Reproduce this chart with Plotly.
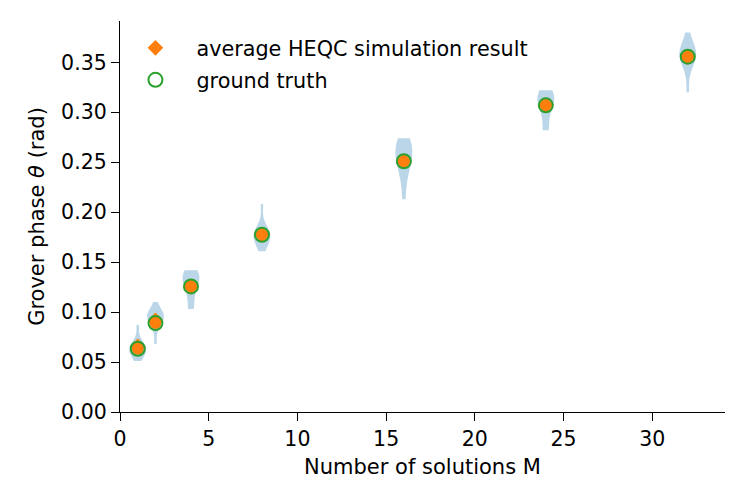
import numpy as np
import plotly.graph_objects as go

# Number of solutions M
M_values = [1, 2, 4, 8, 16, 24, 32]

# Per-run simulated phases (read from violin extents/shapes)
samples_M1 = [0.051, 0.055, 0.058, 0.060, 0.062, 0.063, 0.064, 0.066, 0.068, 0.072, 0.087]
samples_M2 = [0.068, 0.084, 0.089, 0.092, 0.094, 0.096, 0.097, 0.098, 0.099, 0.100, 0.110]
samples_M4 = [0.103, 0.106, 0.118, 0.124, 0.128, 0.131, 0.134, 0.136, 0.138, 0.140, 0.142]
samples_M8 = [0.161, 0.166, 0.170, 0.173, 0.175, 0.177, 0.178, 0.180, 0.182, 0.186, 0.208]
samples_M16 = [0.213, 0.232, 0.242, 0.248, 0.252, 0.256, 0.260, 0.264, 0.268, 0.271, 0.274]
samples_M24 = [0.282, 0.285, 0.300, 0.305, 0.309, 0.312, 0.315, 0.318, 0.320, 0.322]
samples_M32 = [0.320, 0.342, 0.350, 0.353, 0.356, 0.358, 0.360, 0.362, 0.364, 0.368, 0.380]
all_samples = [samples_M1, samples_M2, samples_M4, samples_M8, samples_M16, samples_M24, samples_M32]

# Average simulation result and ground truth
avg_theta = [0.0657, 0.0917, 0.1257, 0.1776, 0.2510, 0.3072, 0.3555]
truth_theta = [0.0633, 0.0890, 0.1257, 0.1774, 0.2510, 0.3070, 0.3557]

x_ticks = [0, 5, 10, 15, 20, 25, 30]
y_ticks = [0.00, 0.05, 0.10, 0.15, 0.20, 0.25, 0.30, 0.35]

FONT = "DejaVu Sans"
fig = go.Figure()

for m, s in zip(M_values, all_samples):
    arr = np.array(s)
    bw = arr.std(ddof=1) * len(arr) ** (-0.2)
    fig.add_trace(go.Violin(
        x=[m] * len(s), y=s, width=0.95, spanmode="hard", bandwidth=bw,
        points=False, fillcolor="rgba(31,119,180,0.3)", line=dict(width=0),
        box_visible=False, meanline_visible=False, showlegend=False,
        hoverinfo="skip", scalemode="width",
    ))

fig.add_trace(go.Scatter(
    x=M_values, y=avg_theta, mode="markers", name="average HEQC simulation result",
    legendgroup="avg",
    marker=dict(symbol="diamond", size=12, color="#ff7f0e", line=dict(width=0)),
))
fig.add_trace(go.Scatter(
    x=M_values, y=truth_theta, mode="markers", showlegend=False, hoverinfo="skip",
    marker=dict(symbol="circle", size=12, color="#ff7f0e", line=dict(width=0)),
))
fig.add_trace(go.Scatter(
    x=M_values, y=truth_theta, mode="markers", name="ground truth",
    legendgroup="truth",
    marker=dict(symbol="circle-open", size=14, color="#2ca02c", line=dict(width=2)),
))

axis_common = dict(
    showline=True, linecolor="black", linewidth=1.3, ticks="outside", ticklen=8,
    tickwidth=1.3, tickcolor="black", showgrid=False, zeroline=False,
    tickfont=dict(family=FONT, size=20.5, color="black"),
)
fig.update_layout(
    width=739, height=490,
    margin=dict(l=112, r=22, t=13, b=86),
    plot_bgcolor="white", paper_bgcolor="white",
    font=dict(family=FONT, size=20.5, color="black"),
    xaxis=dict(range=[0, 34.1], tickvals=x_ticks, **axis_common,
               title=dict(text="Number of solutions M", font=dict(family=FONT, size=21), standoff=9)),
    yaxis=dict(range=[0, 0.3914], tickvals=y_ticks, tickformat=".2f", **axis_common,
               title=dict(text="Grover phase <i>θ</i> (rad)", font=dict(family=FONT, size=21), standoff=10)),
    legend=dict(x=-0.0092, y=0.9824, xanchor="left", yanchor="top", bgcolor="rgba(0,0,0,0)",
                font=dict(family=FONT, size=20.75), itemwidth=72, tracegroupgap=2),
    showlegend=True,
    violinmode="overlay",
)

fig.write_html("out.html")
